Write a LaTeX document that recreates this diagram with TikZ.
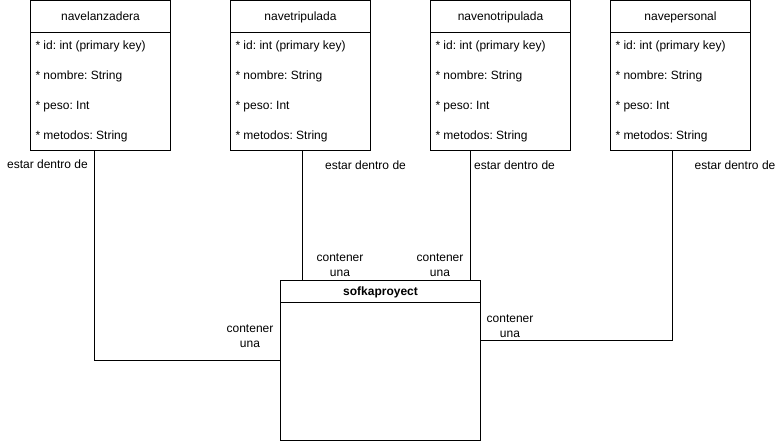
\documentclass[tikz,border=0pt]{standalone}
\usepackage{fontspec}
\setmainfont{Liberation Sans}
\frenchspacing
\begin{document}
\begin{tikzpicture}[x=1pt,y=-1pt,line width=1pt,
  every node/.style={font=\fontsize{12}{15}\selectfont,inner sep=0pt,outer sep=0pt},
  entity/.style={draw,minimum width=140pt,minimum height=150pt,anchor=north west},
  field/.style={anchor=base west},
  lbl/.style={align=center}]
\useasboundingbox (0,0) rectangle (781,441);
\foreach \n/\t/\x in {b1/navelanzadera/30.5,b2/navetripulada/230.5,b3/navenotripulada/430.5,b4/navepersonal/610.5}{
  \node[entity] (\n) at (\x,0.5) {};
  \draw (\n.north west) ++(0,32) -- ++(140,0);
  \node[anchor=base] (\n-h) at (\x+70,20.5) {\t};
  \node[field] (\n-1) at (\x+5,49.5) {* id: int (primary key)};
  \node[field] (\n-2) at (\x+5,79.5) {* nombre: String};
  \node[field] (\n-3) at (\x+5,109.5) {* peso: Int};
  \node[field] (\n-4) at (\x+5,139.5) {* metodos: String};
}
\node[draw,minimum width=200pt,minimum height=160pt,anchor=north west] (sk) at (280.5,280.5) {};
\draw (sk.north west) ++(0,22) -- ++(200,0);
\node (sk-h) at (380.5,292) {\bfseries sofkaproyect};
% connectors
\draw (b1.south -| 94.5,0) |- (sk.west |- 0,360.5);
\draw (b2.south -| 302.5,0) -- (sk.north -| 302.5,0);
\draw (b3.south -| 470.5,0) -- (sk.north -| 470.5,0);
\draw (b4.south -| 672.5,0) |- (sk.east |- 0,340.5);
% labels
\node (e1) at (47.5,164) {estar dentro de};
\node (e2) at (365.5,165) {estar dentro de};
\node (e3) at (514.5,165) {estar dentro de};
\node (e4) at (735,165) {estar dentro de};
\node[lbl] (c1) at (250,336) {contener\\una};
\node[lbl] (c2) at (340,265.5) {contener\\una};
\node[lbl] (c3) at (440,265.5) {contener\\una};
\node[lbl] (c4) at (510,326) {contener\\una};
\end{tikzpicture}
\end{document}
